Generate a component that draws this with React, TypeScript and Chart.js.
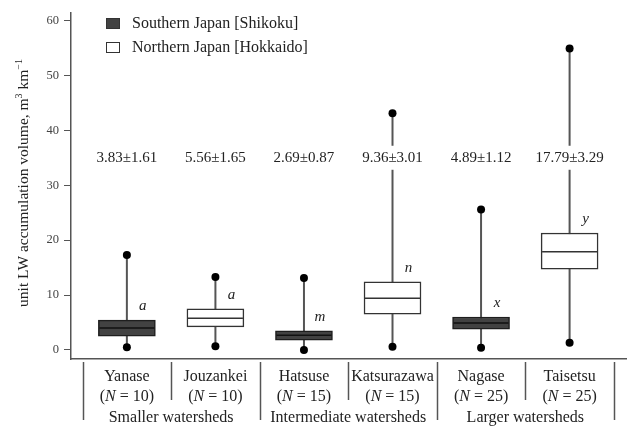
import React, { useEffect, useRef } from 'react';
import { Chart, registerables } from 'chart.js';

Chart.register(...registerables);

// ---- data ----
const categories = ['Yanase', 'Jouzankei', 'Hatsuse', 'Katsurazawa', 'Nagase', 'Taisetsu'];
const sampleSizes = [10, 10, 15, 15, 25, 25];
const watershedGroups = ['Smaller watersheds', 'Intermediate watersheds', 'Larger watersheds'];
const siteRegion = ['south', 'north', 'south', 'north', 'south', 'north'];
const seriesNames = ['Southern Japan [Shikoku]', 'Northern Japan [Hokkaido]'];
const minValues = [0.5, 0.7, 0.0, 0.6, 0.4, 1.3];
const q1Values = [2.5, 4.2, 1.8, 6.5, 3.8, 14.7];
const medianValues = [4.0, 5.8, 2.7, 9.4, 4.9, 17.9];
const q3Values = [5.45, 7.5, 3.5, 12.4, 6.0, 21.3];
const maxValues = [17.3, 13.3, 13.1, 43.1, 25.6, 54.9];
const meanValues = [3.83, 5.56, 2.69, 9.36, 4.89, 17.79];
const sdValues = [1.61, 1.65, 0.87, 3.01, 1.12, 3.29];
const groupLetters = ['a', 'a', 'm', 'n', 'x', 'y'];
const yTickValues = [0, 10, 20, 30, 40, 50, 60];
const yAxisTitle = 'unit LW accumulation volume, m';

// ---- style ----
const SERIF = '"Liberation Serif", "Times New Roman", serif';
const DARK_FILL = '#424242';
const BOX_W = 57;
const TEXT = '#222';
const AXIS = '#555';

const decorPlugin = {
  id: 'boxDecor',
  beforeDatasetsDraw(chart: any) {
    const { ctx, scales } = chart;
    const x = scales.x, y = scales.y;
    ctx.save();
    ctx.strokeStyle = AXIS;
    ctx.lineWidth = 2;
    categories.forEach((_, i) => {
      const px = x.getPixelForValue(i);
      ctx.beginPath();
      ctx.moveTo(px, y.getPixelForValue(minValues[i]));
      ctx.lineTo(px, y.getPixelForValue(maxValues[i]));
      ctx.stroke();
    });
    ctx.restore();
  },
  afterDatasetsDraw(chart: any) {
    const { ctx, scales } = chart;
    const x = scales.x, y = scales.y;
    ctx.save();
    // medians
    categories.forEach((_, i) => {
      const px = x.getPixelForValue(i);
      const py = y.getPixelForValue(medianValues[i]);
      ctx.strokeStyle = siteRegion[i] === 'south' ? '#111' : '#333';
      ctx.lineWidth = 1.5;
      ctx.beginPath();
      ctx.moveTo(px - BOX_W / 2 + 1, py);
      ctx.lineTo(px + BOX_W / 2 - 1, py);
      ctx.stroke();
    });
    // mean ± sd labels
    ctx.font = `15px ${SERIF}`;
    ctx.textAlign = 'center';
    ctx.textBaseline = 'middle';
    categories.forEach((_, i) => {
      const px = x.getPixelForValue(i);
      const py = y.getPixelForValue(35);
      const label = `${meanValues[i].toFixed(2)}±${sdValues[i].toFixed(2)}`;
      const w = ctx.measureText(label).width;
      ctx.fillStyle = '#fff';
      ctx.fillRect(px - w / 2 - 3, py - 12, w + 6, 24);
      ctx.fillStyle = TEXT;
      ctx.fillText(label, px, py);
    });
    // letters
    ctx.font = `italic 15px ${SERIF}`;
    categories.forEach((_, i) => {
      const px = x.getPixelForValue(i);
      const py = y.getPixelForValue(q3Values[i]);
      ctx.fillStyle = TEXT;
      ctx.fillText(groupLetters[i], px + 16, py - 14);
    });
    // legend
    ctx.textAlign = 'left';
    ctx.font = `16px ${SERIF}`;
    seriesNames.forEach((name, k) => {
      const top = 18 + k * 24;
      ctx.fillStyle = k === 0 ? DARK_FILL : '#fff';
      ctx.fillRect(106, top, 14, 11);
      ctx.strokeStyle = '#333';
      ctx.lineWidth = 1;
      ctx.strokeRect(106.5, top + 0.5, 13, 10);
      ctx.fillStyle = TEXT;
      ctx.fillText(name, 132, top + 6);
    });
    // y axis title with superscripts
    ctx.save();
    ctx.translate(28, 183);
    ctx.rotate(-Math.PI / 2);
    ctx.textBaseline = 'alphabetic';
    const big = `15.5px ${SERIF}`;
    const small = `10px ${SERIF}`;
    const parts: [string, string, number][] = [
      [yAxisTitle, big, 0],
      ['3', small, -6],
      [' km', big, 0],
      ['\u22121', small, -6],
    ];
    let total = 0;
    parts.forEach(([t, f]) => { ctx.font = f; total += ctx.measureText(t).width; });
    let cx = -total / 2;
    ctx.fillStyle = TEXT;
    parts.forEach(([t, f, dy]) => {
      ctx.font = f;
      ctx.fillText(t, cx, dy);
      cx += ctx.measureText(t).width;
    });
    ctx.restore();
    // table below x axis
    ctx.strokeStyle = AXIS;
    ctx.lineWidth = 1.5;
    const top = y.bottom + 3;
    for (let b = 0; b <= categories.length; b++) {
      const bx = Math.round(x.getPixelForValue(b - 0.5)) + 0.5;
      const full = b % 2 === 0;
      ctx.beginPath();
      ctx.moveTo(bx, top);
      ctx.lineTo(bx, full ? top + 58 : top + 38);
      ctx.stroke();
    }
    ctx.fillStyle = TEXT;
    ctx.textBaseline = 'middle';
    categories.forEach((name, i) => {
      const px = x.getPixelForValue(i);
      ctx.font = `16px ${SERIF}`;
      ctx.textAlign = 'center';
      ctx.fillText(name, px, top + 15);
      const pre = '(';
      const nn = 'N';
      const post = ` = ${sampleSizes[i]})`;
      ctx.font = `16px ${SERIF}`;
      const w1 = ctx.measureText(pre).width;
      const w3 = ctx.measureText(post).width;
      ctx.font = `italic 16px ${SERIF}`;
      const w2 = ctx.measureText(nn).width;
      let sx = px - (w1 + w2 + w3) / 2;
      ctx.textAlign = 'left';
      ctx.font = `16px ${SERIF}`;
      ctx.fillText(pre, sx, top + 35);
      sx += w1;
      ctx.font = `italic 16px ${SERIF}`;
      ctx.fillText(nn, sx, top + 35);
      sx += w2;
      ctx.font = `16px ${SERIF}`;
      ctx.fillText(post, sx, top + 35);
    });
    ctx.textAlign = 'center';
    ctx.font = `16px ${SERIF}`;
    watershedGroups.forEach((g, k) => {
      const px = x.getPixelForValue(k * 2 + 0.5);
      ctx.fillText(g, px, top + 56);
    });
    ctx.restore();
  },
};

export default function App() {
  const ref = useRef<HTMLCanvasElement>(null);
  useEffect(() => {
    if (!ref.current) return;
    Chart.defaults.font.family = SERIF;
    const southIdx = categories.map((_, i) => i).filter((i) => siteRegion[i] === 'south');
    const northIdx = categories.map((_, i) => i).filter((i) => siteRegion[i] === 'north');
    const endPoints = [
      ...categories.map((_, i) => ({ x: i, y: minValues[i] })),
      ...categories.map((_, i) => ({ x: i, y: maxValues[i] })),
    ];
    const chart = new Chart(ref.current, {
      type: 'bar',
      data: {
        datasets: [
          {
            type: 'scatter',
            label: 'min/max',
            data: endPoints,
            pointRadius: 4,
            pointBackgroundColor: '#000',
            pointBorderWidth: 0,
            order: 0,
          } as any,
          {
            label: seriesNames[0],
            data: southIdx.map((i) => ({ x: i, y: [q1Values[i], q3Values[i]] })),
            backgroundColor: DARK_FILL,
            borderColor: '#1e1e1e',
            borderWidth: 1.5,
            borderSkipped: false,
            barThickness: BOX_W,
            grouped: false,
            order: 1,
          } as any,
          {
            label: seriesNames[1],
            data: northIdx.map((i) => ({ x: i, y: [q1Values[i], q3Values[i]] })),
            backgroundColor: '#fff',
            borderColor: '#333',
            borderWidth: 1.5,
            borderSkipped: false,
            barThickness: BOX_W,
            grouped: false,
            order: 1,
          } as any,
        ],
      },
      options: {
        animation: false,
        responsive: false,
        devicePixelRatio: 1,
        events: [],
        layout: { padding: { top: 2.5, right: 3, left: 0, bottom: 0 } },
        plugins: { legend: { display: false }, tooltip: { enabled: false } },
        scales: {
          x: {
            type: 'linear',
            offset: false,
            min: -0.631,
            max: 5.637,
            ticks: { display: false },
            grid: { display: false, offset: false },
            border: { display: true, color: AXIS, width: 1.5 },
            afterFit: (s: any) => { s.height = 67; },
          },
          y: {
            type: 'linear',
            min: -1.64,
            max: 61.45,
            afterBuildTicks: (s: any) => { s.ticks = yTickValues.map((v) => ({ value: v })); },
            ticks: { color: '#444', font: { size: 12.5, family: SERIF }, padding: 5 },
            grid: { display: true, drawOnChartArea: false, drawTicks: true, tickLength: 7, color: AXIS, lineWidth: 1 },
            border: { display: true, color: AXIS, width: 1.5 },
            afterFit: (s: any) => { s.width = 71; },
          },
        },
      } as any,
      plugins: [decorPlugin],
    });
    return () => chart.destroy();
  }, []);
  return (
    <div style={{ position: 'absolute', left: 0, top: 0, width: 630, height: 426 }}>
      <canvas ref={ref} width={630} height={426} style={{ display: 'block' }} />
    </div>
  );
}
